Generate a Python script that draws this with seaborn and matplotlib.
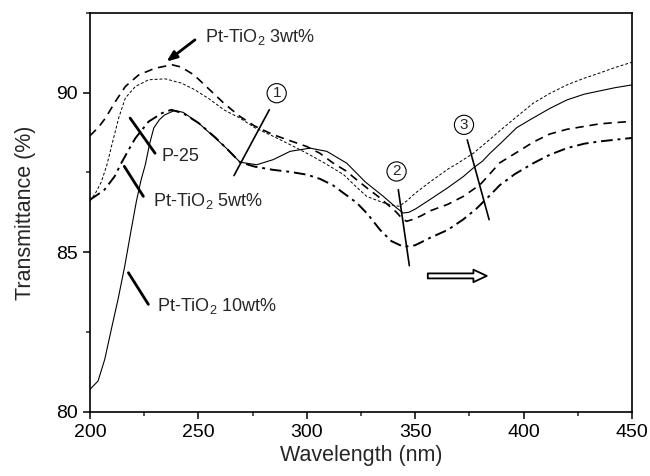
import matplotlib
matplotlib.use("Agg")
import matplotlib.pyplot as plt
import seaborn as sns
import pandas as pd
from matplotlib.ticker import MultipleLocator

# ---------------- data ----------------
x_3wt = [200, 204, 207.1, 211.7, 216.3, 222.4, 229.9, 237.8, 242, 248, 255, 262,
         269.2, 276, 284.5, 292, 300, 306, 312.2, 318, 323, 328, 333.8, 338,
         341.4, 344, 346, 349, 353, 357, 365, 372.2, 380, 389, 395, 404.5, 412,
         420, 435, 450]
y_3wt = [88.65, 88.92, 89.2, 89.72, 90.19, 90.55, 90.76, 90.87, 90.8, 90.55,
         90.1, 89.65, 89.25, 88.95, 88.68, 88.5, 88.31, 88.1, 87.79, 87.55, 87.27,
         87.0, 86.7, 86.45, 86.25, 86.05, 85.97, 86.03, 86.15, 86.3, 86.5, 86.75,
         87.12, 87.8, 88.05, 88.45, 88.7, 88.85, 89.02, 89.1]

x_p25 = [200, 202.5, 205.2, 207.8, 210.1, 213.2, 216.3, 220.9, 227, 234.7,
         242, 248, 255, 262, 269.2, 276, 284.5, 292, 300, 308, 317, 322, 327.6,
         335.3, 339, 342.5, 346, 350, 356.8, 365, 370, 376.8, 383, 389, 396,
         404.5, 412, 420, 428, 435, 442, 450]
y_p25 = [86.6, 86.85, 87.2, 87.74, 88.37, 89.2, 89.83, 90.19, 90.4, 90.43,
         90.3, 90.1, 89.8, 89.45, 89.2, 88.9, 88.63, 88.38, 88.1, 87.8, 87.43,
         87.1, 86.75, 86.55, 86.48, 86.44, 86.6, 86.85, 87.2, 87.6, 87.8, 88.1,
         88.45, 88.8, 89.2, 89.67, 89.97, 90.24, 90.45, 90.61, 90.78, 90.95]

x_5wt = [200, 203, 206.7, 211.4, 214.4, 219, 220.9, 227, 233.3, 237.5, 243,
         250, 257.7, 263, 269.2, 276, 284.5, 292, 300, 306, 312, 318, 323, 328,
         333.8, 339, 344.6, 350, 356.8, 365, 372, 378, 384, 389, 396, 404.5, 412,
         420, 428, 435, 450]
y_5wt = [86.65, 86.78, 86.96, 87.38, 87.79, 88.35, 88.57, 89.09, 89.36, 89.46,
         89.35, 89.05, 88.6, 88.25, 87.82, 87.68, 87.58, 87.52, 87.43, 87.3,
         87.1, 86.8, 86.55, 86.2, 85.7, 85.35, 85.17, 85.22, 85.45, 85.7, 86.02,
         86.35, 86.75, 87.1, 87.45, 87.79, 88.05, 88.26, 88.4, 88.47, 88.58]

x_10wt = [200, 203.7, 206.8, 209.8, 212.9, 216, 219, 221.4, 223.5, 225.5,
          227.5, 229.4, 232, 234.4, 239, 243, 250, 257.7, 263, 269.2, 276.9,
          284.5, 292.3, 301.5, 309.2, 318.4, 327, 335.3, 341.4, 344.4, 347, 350,
          356.8, 365, 372.2, 376.8, 381, 384.5, 390, 396.8, 403, 412, 420, 428,
          435, 442, 450]
y_10wt = [80.71, 80.97, 81.65, 82.58, 83.52, 84.56, 85.71, 86.6, 87.25, 87.74,
          88.4, 88.89, 89.15, 89.3, 89.44, 89.38, 89.05, 88.58, 88.25, 87.82,
          87.74, 87.9, 88.16, 88.26, 88.16, 87.79, 87.2, 86.75, 86.39, 86.23,
          86.25, 86.35, 86.65, 87.02, 87.37, 87.64, 87.85, 88.1, 88.45, 88.9,
          89.15, 89.5, 89.77, 89.95, 90.05, 90.15, 90.24]

x_ticks = [200, 250, 300, 350, 400, 450]
y_ticks = [80, 85, 90]

# ---------------- style ----------------
sns.set_theme(style="ticks")
plt.rcParams["font.family"] = ["Liberation Sans", "DejaVu Sans"]
plt.rcParams["mathtext.fontset"] = "custom"
plt.rcParams["mathtext.rm"] = "Liberation Sans"
plt.rcParams["mathtext.default"] = "regular"

fig = plt.figure(figsize=(6.5, 4.76), dpi=100)
ax = fig.add_axes([0.1385, 0.1345, 0.9723 - 0.1385, 0.9733 - 0.1345])

series = [
    (x_3wt, y_3wt, (0, (5, 3.5)), 1.2),
    (x_p25, y_p25, (0, (3, 2)), 0.7),
    (x_5wt, y_5wt, (0, (6, 2.5, 1.5, 2.5)), 1.4),
    (x_10wt, y_10wt, "-", 0.8),
]
for xs, ys, ls, lw in series:
    df = pd.DataFrame({"x": xs, "y": ys})
    sns.lineplot(data=df, x="x", y="y", ax=ax, color="black", linestyle=ls,
                 linewidth=lw, sort=False, estimator=None)

ax.set_xlim(200, 450)
ax.set_ylim(80, 92.5)
ax.set_xticks(x_ticks)
ax.set_yticks(y_ticks)
ax.xaxis.set_minor_locator(MultipleLocator(25))
ax.yaxis.set_minor_locator(MultipleLocator(2.5))
ax.tick_params(axis="both", which="major", direction="out", length=5, width=1.1,
               labelsize=14, colors="black")
ax.tick_params(axis="both", which="minor", direction="out", length=3, width=1.1)
ax.tick_params(top=False, right=False, which="both")
for sp in ax.spines.values():
    sp.set_visible(True)
    sp.set_linewidth(1.2)
    sp.set_color("black")

ax.set_xlabel("Wavelength (nm)", fontsize=15.5, labelpad=3)
ax.set_ylabel("Transmittance (%)", fontsize=15.5, labelpad=15)

# ---------------- annotations ----------------
lab_fs = 13
ax.text(253, 91.75, "Pt-TiO$_2$ 3wt%", fontsize=lab_fs, va="center", ha="left")
ax.annotate("", xy=(235.3, 90.97), xytext=(248.4, 91.65),
            arrowprops=dict(arrowstyle="-|>,head_length=0.5,head_width=0.2",
                            lw=2, color="black", shrinkA=0, shrinkB=0))
ax.text(233.1, 88.0, "P-25", fontsize=lab_fs, va="center", ha="left")
ax.annotate("", xy=(218.5, 89.2), xytext=(230, 88.1),
            arrowprops=dict(arrowstyle="-", lw=2, color="black",
                            shrinkA=0, shrinkB=0))
ax.text(228.9, 86.6, "Pt-TiO$_2$ 5wt%", fontsize=lab_fs, va="center", ha="left")
ax.annotate("", xy=(215.8, 87.69), xytext=(224.6, 86.75),
            arrowprops=dict(arrowstyle="-", lw=2, color="black",
                            shrinkA=0, shrinkB=0))
ax.text(230.7, 83.31, "Pt-TiO$_2$ 10wt%", fontsize=lab_fs, va="center", ha="left")
ax.annotate("", xy=(217.7, 84.36), xytext=(226.9, 83.37),
            arrowprops=dict(arrowstyle="-", lw=2, color="black",
                            shrinkA=0, shrinkB=0))

# marker lines across the curves
for (x0, y0, x1, y1) in [(282.7, 89.46, 266.4, 87.4),
                          (342.2, 86.96, 347.3, 84.58),
                          (374.0, 88.52, 384.1, 86.02)]:
    ax.annotate("", xy=(x1, y1), xytext=(x0, y0),
                arrowprops=dict(arrowstyle="-", lw=1.2, color="black",
                                shrinkA=0, shrinkB=0))

# circled numbers
for (cx, cy, t) in [(286.1, 89.98, "1"), (341.4, 87.53, "2"), (372.5, 88.99, "3")]:
    ax.text(cx, cy, t, fontsize=11, ha="center", va="center",
            bbox=dict(boxstyle="circle,pad=0.17", fc="white", ec="black", lw=0.8))

# hollow arrow
ax.annotate("", xy=(383, 84.26), xytext=(355.8, 84.26),
            arrowprops=dict(arrowstyle="simple,head_length=0.8,head_width=0.75,tail_width=0.3",
                            fc="white", ec="black", lw=1.3, shrinkA=0, shrinkB=0))

fig.savefig("out.png", dpi=100)
